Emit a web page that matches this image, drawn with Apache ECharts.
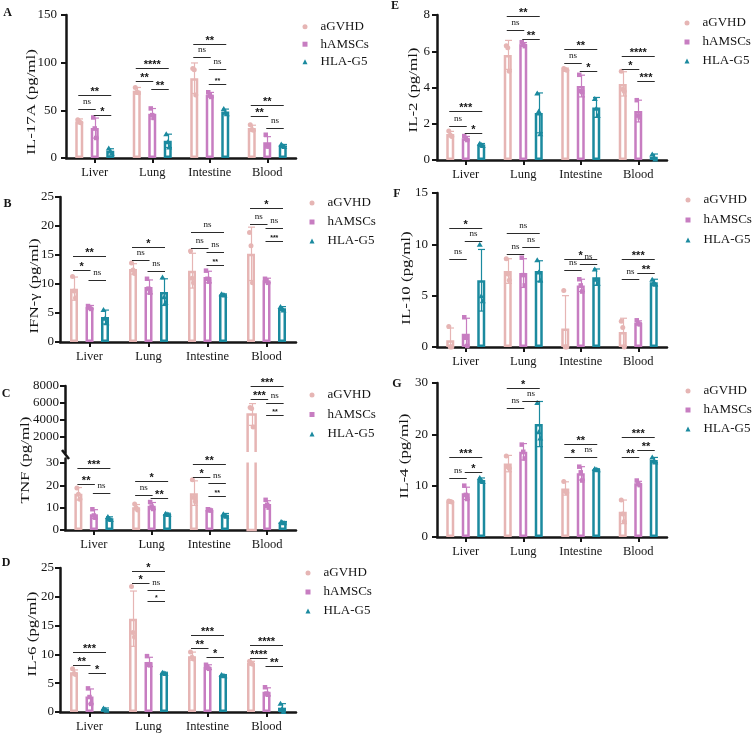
<!DOCTYPE html>
<html><head><meta charset="utf-8">
<script src="https://cdn.jsdelivr.net/npm/echarts@6/dist/echarts.min.js"></script>
<style>html,body{margin:0;padding:0;background:#fff}#c{width:753px;height:734px}</style>
</head><body><div id="c"></div>
<script>
// ---------------- DATA ----------------
const categories = ['Liver', 'Lung', 'Intestine', 'Blood'];
const groups = ['aGVHD', 'hAMSCs', 'HLA-G5'];

// A: IL-17A
const IL17A_title = 'IL-17A (pg/ml)';
const IL17A_ticks = [0, 50, 100, 150];
const IL17A_mean = [[38.4, 70.5, 83.7, 31.4], [31.4, 46.4, 66.3, 16.4], [7.7, 18.0, 48.8, 13.2]];
const IL17A_sd = [[2.6, 3.5, 16, 3], [10.5, 5.5, 2.5, 6], [2, 7, 2.5, 1]];
const IL17A_pts = [
  [[40, 38, 37], [74, 69, 68.5], [94, 92.5, 66], [35, 30, 29.2]],
  [[42.5, 31, 21], [52, 45, 42], [69, 66, 64], [24.4, 13, 12]],
  [[10.5, 7.7, 5], [25.5, 17, 11.5], [52, 48, 46.5], [14.6, 13, 12]]];
const IL17A_sig = [[0, 0, 2, 66], [0, 0, 1, 51.3], [0, 1, 2, 45.3], [1, 0, 2, 94.2], [1, 0, 1, 81], [1, 1, 2, 72.2],
  [2, 0, 2, 119.6], [2, 0, 1, 105.7], [2, 1, 2, 93], [3, 0, 2, 55.8], [3, 0, 1, 43.6], [3, 1, 2, 31.4]];
const IL17A_sigText = ['**', 'ns', '*', '****', '**', '**', '**', 'ns', 'ns', '**', '**', 'ns'];
const IL17A_minor = [[2, 1, 2, 77.4]];
const IL17A_minorText = ['**'];

// B: IFN-γ
const IFNG_title = 'IFN-γ (pg/ml)';
const IFNG_ticks = [0, 5, 10, 15, 20, 25];
const IFNG_mean = [[9.2, 12.6, 12.3, 15.2], [6.0, 9.5, 11.2, 10.6], [4.3, 8.6, 8.2, 5.8]];
const IFNG_sd = [[2.0, 0.9, 3.0, 4.6], [0.3, 1.2, 1.0, 0.4], [1.2, 2.3, 0.1, 0.3]];
const IFNG_pts = [
  [[11.3, 8.8, 7.6], [13.6, 12.4, 11.8], [15.7, 11.0, 10.2], [18.9, 16.6, 10.2]],
  [[6.2, 6.0, 5.7], [10.9, 9.2, 8.5], [12.3, 10.9, 10.4], [10.9, 10.6, 10.2]],
  [[5.6, 4.1, 3.3], [11.2, 7.8, 6.8], [8.3, 8.2, 8.1], [6.1, 5.8, 5.5]]];
const IFNG_sig = [[0, 0, 2, 14.8], [0, 0, 1, 12.5], [0, 1, 2, 10.7], [1, 0, 2, 16.4], [1, 0, 1, 14.1], [1, 1, 2, 12.2],
  [2, 0, 2, 18.9], [2, 0, 1, 16.2], [2, 1, 2, 15.5], [3, 0, 2, 23.1], [3, 0, 1, 20.4], [3, 1, 2, 19.7]];
const IFNG_sigText = ['**', '*', 'ns', '*', 'ns', 'ns', 'ns', 'ns', 'ns', '*', 'ns', 'ns'];
const IFNG_minor = [[2, 1, 2, 13.2], [3, 1, 2, 17.5]];
const IFNG_minorText = ['**', '***'];

// C: TNF (broken axis)
const TNF_title = 'TNF (pg/ml)';
const TNF_ticksUpper = [2000, 4000, 6000, 8000];
const TNF_ticksLower = [0, 10, 20, 30];
const TNF_mean = [[16.2, 10.2, 16.5, 4600], [7.1, 10.8, 9.0, 11.6], [5.3, 7.2, 6.8, 3.5]];
const TNF_sd = [[2.8, 1.2, 5.5, 1300], [2.0, 1.5, 0.3, 1.5], [0.6, 0.3, 0.6, 0.3]];
const TNF_pts = [
  [[18.8, 16.0, 13.8], [11.6, 10.0, 9.0], [22.5, 14.5, 12.8], [5420, 5300, 3100]],
  [[9.3, 6.5, 5.5], [12.5, 10.5, 9.4], [9.3, 9.0, 8.7], [13.5, 11.3, 10.0]],
  [[6.0, 5.2, 4.7], [7.5, 7.2, 6.9], [7.3, 6.6, 6.1], [3.8, 3.5, 3.2]]];
const TNF_sig = [[0, 0, 2, 27.8], [0, 0, 1, 20.7], [0, 1, 2, 16.5], [1, 0, 2, 22.1], [1, 0, 1, 15.8], [1, 1, 2, 14.3],
  [2, 0, 2, 29.6], [2, 0, 1, 23.6], [2, 1, 2, 21], [3, 0, 2, 7990], [3, 0, 1, 6485], [3, 1, 2, 6008]];
const TNF_sigText = ['***', '**', 'ns', '*', 'ns', '**', '**', '*', 'ns', '***', '***', 'ns'];
const TNF_minor = [[2, 1, 2, 15.3], [3, 1, 2, 4500]];
const TNF_minorText = ['**', '**'];

// D: IL-6
const IL6_title = 'IL-6 (pg/ml)';
const IL6_ticks = [0, 5, 10, 15, 20, 25];
const IL6_mean = [[6.9, 16.2, 9.7, 8.5], [2.7, 8.7, 7.8, 3.5], [0.5, 6.8, 6.4, 0.75]];
const IL6_sd = [[0.4, 4.8, 0.7, 0.3], [1.3, 0.8, 0.4, 0.7], [0.2, 0.1, 0.1, 0.7]];
const IL6_pts = [
  [[7.5, 6.7, 6.5], [21.8, 13.8, 13.0], [10.4, 9.5, 9.2], [8.8, 8.4, 8.3]],
  [[4.1, 2.6, 1.4], [9.7, 8.3, 8.1], [8.2, 7.7, 7.5], [4.3, 3.2, 3.0]],
  [[0.7, 0.5, 0.3], [6.9, 6.8, 6.7], [6.5, 6.4, 6.3], [1.5, 0.6, 0.1]]];
const IL6_sig = [[0, 0, 2, 10.5], [0, 0, 1, 8.2], [0, 1, 2, 6.7], [1, 0, 2, 24.5], [1, 0, 1, 22.4], [1, 1, 2, 21.1],
  [2, 0, 2, 13.4], [2, 0, 1, 11.1], [2, 1, 2, 9.5], [3, 0, 2, 11.7], [3, 0, 1, 9.4], [3, 1, 2, 7.9]];
const IL6_sigText = ['***', '**', '*', '*', '*', 'ns', '***', '**', '*', '****', '****', '**'];
const IL6_minor = [[1, 1, 2, 19.3]];
const IL6_minorText = ['*'];

// E: IL-2
const IL2_title = 'IL-2 (pg/ml)';
const IL2_ticks = [0, 2, 4, 6, 8];
const IL2_mean = [[1.43, 5.8, 5.0, 4.2], [1.2, 6.38, 4.08, 2.7], [0.86, 2.6, 2.9, 0.18]];
const IL2_sd = [[0.15, 0.8, 0.07, 0.67], [0.1, 0.1, 0.6, 0.6], [0.05, 1.1, 0.55, 0.15]];
const IL2_pts = [
  [[1.6, 1.38, 1.3], [6.3, 6.2, 4.9], [5.05, 5.0, 4.95], [4.9, 3.9, 3.8]],
  [[1.32, 1.2, 1.1], [6.5, 6.38, 6.28], [4.7, 3.8, 3.75], [3.3, 2.45, 2.35]],
  [[0.92, 0.86, 0.8], [3.7, 2.7, 1.45], [3.4, 2.85, 2.45], [0.33, 0.15, 0.06]]];
const IL2_sig = [[0, 0, 2, 2.72], [0, 0, 1, 1.9], [0, 1, 2, 1.47], [1, 0, 2, 7.94], [1, 0, 1, 7.2], [1, 1, 2, 6.7],
  [2, 0, 2, 6.1], [2, 0, 1, 5.37], [2, 1, 2, 4.93], [3, 0, 2, 5.75], [3, 0, 1, 5.0], [3, 1, 2, 4.37]];
const IL2_sigText = ['***', 'ns', '*', '**', 'ns', '**', '**', 'ns', '*', '****', '*', '***'];
const IL2_minor = [];
const IL2_minorText = [];

// F: IL-10
const IL10_title = 'IL-10 (pg/ml)';
const IL10_ticks = [0, 5, 10, 15];
const IL10_mean = [[0.65, 7.4, 1.8, 1.45], [1.3, 7.2, 6.0, 2.35], [6.5, 7.4, 6.8, 6.3]];
const IL10_sd = [[1.2, 1.2, 3.2, 1.35], [1.5, 1.4, 0.6, 0.2], [3.0, 1.0, 0.8, 0.3]];
const IL10_pts = [
  [[2.0, 0, 0], [8.6, 7.1, 6.5], [5.5, 0, 0], [2.5, 1.9, 0]],
  [[2.9, 0.9, 0.1], [8.7, 7.0, 6.0], [6.6, 6.0, 5.4], [2.6, 2.3, 2.2]],
  [[10.0, 5.0, 4.5], [8.5, 7.3, 6.5], [7.6, 6.6, 6.2], [6.6, 6.3, 6.1]]];
const IL10_sig = [[0, 0, 2, 11.6], [0, 0, 1, 8.6], [0, 1, 2, 10.3], [1, 0, 2, 11.1], [1, 0, 1, 9.1], [1, 1, 2, 9.7],
  [2, 0, 2, 8.6], [2, 0, 1, 7.47], [2, 1, 2, 8.05], [3, 0, 2, 8.54], [3, 0, 1, 6.6], [3, 1, 2, 7.24]];
const IL10_sigText = ['*', 'ns', 'ns', 'ns', 'ns', 'ns', '*', 'ns', 'ns', '***', 'ns', '**'];
const IL10_minor = [];
const IL10_minorText = [];

// G: IL-4
const IL4_title = 'IL-4 (pg/ml)';
const IL4_ticks = [0, 10, 20, 30];
const IL4_mean = [[6.9, 14.3, 9.45, 4.9], [8.5, 16.6, 12.4, 10.45], [11.1, 22.0, 13.2, 15.0]];
const IL4_sd = [[0.1, 1.6, 1.3, 2.3], [1.2, 1.6, 1.3, 0.4], [0.4, 4.4, 0.1, 0.5]];
const IL4_pts = [
  [[7.0, 6.9, 6.8], [15.8, 13.7, 13.4], [10.8, 8.9, 8.6], [7.2, 4.5, 3.0]],
  [[10.0, 8.2, 7.4], [18.0, 16.6, 15.3], [13.7, 12.6, 11.0], [11.0, 10.3, 10.1]],
  [[11.6, 11.0, 10.8], [26.2, 20.5, 19.3], [13.35, 13.2, 13.1], [15.6, 14.8, 14.6]]];
const IL4_sig = [[0, 0, 2, 15.5], [0, 0, 1, 11.4], [0, 1, 2, 12.6], [1, 0, 2, 29.1], [1, 0, 1, 25.1], [1, 1, 2, 26.5],
  [2, 0, 2, 18.2], [2, 0, 1, 15.5], [2, 1, 2, 15.5], [3, 0, 2, 19.5], [3, 0, 1, 15.5], [3, 1, 2, 16.9]];
const IL4_sigText = ['***', 'ns', '*', '*', 'ns', 'ns', '**', '*', 'ns', '***', '**', '**'];
const IL4_minor = [];
const IL4_minorText = [];

// ---------------- STYLE / LAYOUT ----------------
const COLORS = ['#E6B5B4', '#C77DC1', '#1B8A9F'];
const SYMBOLS = ['circle', 'rect', 'triangle'];
const SYM_SIZE = [5, 4.5, [6, 5]];
const BAR_W = 8;
const BAR_BORDER = 2.5;
const SPACING = 15.5;
const OFFS = [-SPACING, 0, SPACING];
const BAR_GAP = ((SPACING - BAR_W) / BAR_W * 100).toFixed(2) + '%';
const SERIF = '"Liberation Serif","Times New Roman",serif';
const SANS = '"Liberation Sans",Arial,sans-serif';
const INK = '#151515';
const asBar = () => 'bar';

const panels = [
  { letter: 'A', title: IL17A_title, mean: IL17A_mean, sd: IL17A_sd, pts: IL17A_pts, sig: IL17A_sig, sigText: IL17A_sigText, minor: IL17A_minor, minorText: IL17A_minorText,
    left: 66, width: 230, labelMargin: 9,
    segs: [{ top: 15, height: 143, min: 0, max: 150, interval: 50, ticks: IL17A_ticks, xShow: true, barMode: asBar, markKeep: () => true }],
    legend: [302.5, 20.2, 4.5], titlePos: [32, 102], letterPos: [7.5, 13] },
  { letter: 'B', title: IFNG_title, mean: IFNG_mean, sd: IFNG_sd, pts: IFNG_pts, sig: IFNG_sig, sigText: IFNG_sigText, minor: IFNG_minor, minorText: IFNG_minorText,
    left: 60, width: 236, labelMargin: 6,
    segs: [{ top: 197, height: 145, min: 0, max: 25, interval: 5, ticks: IFNG_ticks, xShow: true, barMode: asBar, markKeep: () => true }],
    legend: [309.5, 196.5, 6], titlePos: [35, 286], letterPos: [7.5, 203.5] },
  { letter: 'C', title: TNF_title, mean: TNF_mean, sd: TNF_sd, pts: TNF_pts, sig: TNF_sig, sigText: TNF_sigText, minor: TNF_minor, minorText: TNF_minorText,
    left: 65, width: 231, labelMargin: 6, segs: [
      { top: 386, height: 67, min: 0, max: 8000, interval: 2000, ticks: TNF_ticksUpper, xShow: false,
        barMode: v => (v > 32 ? 'openBottom' : null), markKeep: v => v > 32 },
      { top: 458.5, height: 71.5, min: 0, max: 32, interval: 10, ticks: TNF_ticksLower, xShow: true,
        barMode: v => (v <= 32 ? 'bar' : 'openTop'), markKeep: v => v <= 32 }],
    legend: [309.5, 388.5, 6.5], titlePos: [26, 460], letterPos: [6, 394], brk: true },
  { letter: 'D', title: IL6_title, mean: IL6_mean, sd: IL6_sd, pts: IL6_pts, sig: IL6_sig, sigText: IL6_sigText, minor: IL6_minor, minorText: IL6_minorText,
    left: 60, width: 236, labelMargin: 6,
    segs: [{ top: 568, height: 144, min: 0, max: 25, interval: 5, ticks: IL6_ticks, xShow: true, barMode: asBar, markKeep: () => true }],
    legend: [305.5, 566.5, 6], titlePos: [33, 634], letterPos: [6, 563] },
  { letter: 'E', title: IL2_title, mean: IL2_mean, sd: IL2_sd, pts: IL2_pts, sig: IL2_sig, sigText: IL2_sigText, minor: IL2_minor, minorText: IL2_minorText,
    left: 437, width: 230, labelMargin: 7,
    segs: [{ top: 15, height: 145, min: 0, max: 8, interval: 2, ticks: IL2_ticks, xShow: true, barMode: asBar, markKeep: () => true }],
    legend: [684.5, 16.5, 6], titlePos: [414, 90], letterPos: [395, 6] },
  { letter: 'F', title: IL10_title, mean: IL10_mean, sd: IL10_sd, pts: IL10_pts, sig: IL10_sig, sigText: IL10_sigText, minor: IL10_minor, minorText: IL10_minorText,
    left: 437, width: 230, labelMargin: 9,
    segs: [{ top: 193, height: 154, min: 0, max: 15, interval: 5, ticks: IL10_ticks, xShow: true, barMode: asBar, markKeep: () => true }],
    legend: [685.5, 193.5, 7], titlePos: [407, 278], letterPos: [397, 194] },
  { letter: 'G', title: IL4_title, mean: IL4_mean, sd: IL4_sd, pts: IL4_pts, sig: IL4_sig, sigText: IL4_sigText, minor: IL4_minor, minorText: IL4_minorText,
    left: 437, width: 230, labelMargin: 9,
    segs: [{ top: 383, height: 154, min: 0, max: 30, interval: 10, ticks: IL4_ticks, xShow: true, barMode: asBar, markKeep: () => true }],
    legend: [685.5, 384.5, 6], titlePos: [405, 456], letterPos: [397, 384] }
];

const option = { animation: false, textStyle: { fontFamily: SERIF }, grid: [], xAxis: [], yAxis: [], series: [], legend: [], graphic: [] };

function textStyle(o) {
  return Object.assign({ textAlign: o.align, textVerticalAlign: o.verticalAlign }, o);
}

function bracketSeries(gi, items, labels, small) {
  return {
    type: 'custom', xAxisIndex: gi, yAxisIndex: gi, z: 6, silent: true, clip: false,
    encode: { x: 0, y: 3 },
    data: items,
    renderItem: (params, api) => {
      const c = api.value(0), g1 = api.value(1), g2 = api.value(2), yv = api.value(3);
      const p = api.coord([c, yv]);
      const y = Math.round(p[1]) + 0.5;
      const x1 = p[0] + OFFS[g1] - 1, x2 = p[0] + OFFS[g2] + 1;
      const lab = labels[params.dataIndex];
      const isNs = lab === 'ns';
      let font, ty;
      if (small) { font = `bold 7px ${SANS}`; ty = y + 0; }
      else if (isNs) { font = `9px ${SERIF}`; ty = y - 3; }
      else { font = `bold 11px ${SANS}`; ty = y + 1.5; }
      return {
        type: 'group', children: [
          { type: 'line', shape: { x1, y1: y, x2, y2: y }, style: { stroke: '#2b2b2b', lineWidth: 1 } },
          { type: 'text', style: textStyle({ text: lab, x: (x1 + x2) / 2, y: ty, font, fill: INK, align: 'center', verticalAlign: 'bottom' }) }
        ]
      };
    }
  };
}

panels.forEach(p => {
  p.segs.forEach(seg => {
    const gi = option.grid.length;
    option.grid.push({ left: p.left, top: seg.top, width: p.width, height: seg.height, containLabel: false, outerBoundsMode: 'none' });
    option.xAxis.push({
      type: 'category', gridIndex: gi, data: categories, show: seg.xShow, boundaryGap: true,
      axisLine: { show: true, lineStyle: { color: INK, width: 2.5 } },
      axisTick: { show: true, alignWithLabel: true, length: 5, lineStyle: { color: INK, width: 2 } },
      axisLabel: { show: true, fontFamily: SERIF, fontSize: 12.5, color: INK, margin: 8 },
      splitLine: { show: false }
    });
    option.yAxis.push({
      type: 'value', gridIndex: gi, min: seg.min, max: seg.max, interval: seg.interval,
      axisLine: { show: true, lineStyle: { color: INK, width: 2.5 } },
      axisTick: { show: true, length: 5, lineStyle: { color: INK, width: 2 }, customValues: seg.ticks },
      axisLabel: { fontFamily: SERIF, fontSize: 13, color: INK, margin: p.labelMargin, customValues: seg.ticks,
        formatter: v => (seg.ticks.indexOf(v) >= 0 ? String(v) : '') },
      splitLine: { show: false }
    });
    // bars (closed bars through the bar series; bars cut by the axis break drawn open-ended)
    const openBars = [];
    p.mean.forEach((arr, g) => {
      option.series.push({
        type: 'bar', name: groups[g], xAxisIndex: gi, yAxisIndex: gi, barWidth: BAR_W, barGap: BAR_GAP, z: 2,
        clip: true, silent: true,
        data: arr.map(v => (seg.barMode(v) === 'bar' ? v : '-')),
        itemStyle: { color: '#ffffff', borderColor: COLORS[g], borderWidth: BAR_BORDER },
        emphasis: { disabled: true }
      });
      arr.forEach((v, c) => {
        const m = seg.barMode(v);
        if (m === 'openTop' || m === 'openBottom') openBars.push([c, g, v, m === 'openTop' ? 1 : 0]);
      });
    });
    if (openBars.length) {
      option.series.push({
        type: 'custom', xAxisIndex: gi, yAxisIndex: gi, z: 2, silent: true, clip: false,
        encode: { x: 0, y: 2 }, data: openBars,
        renderItem: (params, api) => {
          const c = api.value(0), g = api.value(1), v = api.value(2), top = api.value(3);
          const x = api.coord([c, seg.min])[0] + OFFS[g];
          const y0 = api.coord([c, seg.min])[1];
          const y1 = top ? api.coord([c, seg.max])[1] + 4 : api.coord([c, v])[1];
          const h = BAR_W / 2;
          const pts = top ? [[x - h, y1], [x - h, y0], [x + h, y0], [x + h, y1]]
                          : [[x - h, y0 - 1], [x - h, y1], [x + h, y1], [x + h, y0 - 1]];
          return { type: 'polyline', shape: { points: pts }, style: { stroke: COLORS[g], lineWidth: BAR_BORDER, fill: null } };
        }
      });
    }
    // error bars
    const eb = [];
    p.mean.forEach((arr, g) => arr.forEach((m, c) => { if (seg.markKeep(m)) eb.push([c, g, m, p.sd[g][c]]); }));
    option.series.push({
      type: 'custom', xAxisIndex: gi, yAxisIndex: gi, z: 3, silent: true,
      encode: { x: 0, y: 2 }, data: eb,
      renderItem: (params, api) => {
        const c = api.value(0), g = api.value(1), m = api.value(2), s = api.value(3);
        const x = Math.round(api.coord([c, m])[0] + OFFS[g]) + 0.5;
        const yt = api.coord([c, m + s])[1];
        const lo = Math.max(m - s, seg.min);
        const yb = api.coord([c, lo])[1];
        const st = { stroke: COLORS[g], lineWidth: 1.2 };
        const ch = [
          { type: 'line', shape: { x1: x, y1: yt, x2: x, y2: yb }, style: st },
          { type: 'line', shape: { x1: x - 3.5, y1: yt, x2: x + 3.5, y2: yt }, style: st }
        ];
        if (m - s > seg.min) ch.push({ type: 'line', shape: { x1: x - 3.5, y1: yb, x2: x + 3.5, y2: yb }, style: st });
        return { type: 'group', children: ch };
      }
    });
    // individual points
    p.pts.forEach((grp, g) => {
      const d = [];
      grp.forEach((vals, c) => vals.forEach((v, j) => {
        if (seg.markKeep(v)) d.push({ value: [c, v], symbolOffset: [OFFS[g] + (j - 1) * 1.5, 0] });
      }));
      option.series.push({
        type: 'scatter', name: groups[g], xAxisIndex: gi, yAxisIndex: gi, z: 4, silent: true,
        symbol: SYMBOLS[g], symbolSize: SYM_SIZE[g], itemStyle: { color: COLORS[g], opacity: 1 }, data: d
      });
    });
    // significance brackets
    const si = [], st = [];
    p.sig.forEach((b, k) => { if (seg.markKeep(b[3])) { si.push(b); st.push(p.sigText[k]); } });
    option.series.push(bracketSeries(gi, si, st, false));
    const mi = [], mt = [];
    p.minor.forEach((b, k) => { if (seg.markKeep(b[3])) { mi.push(b); mt.push(p.minorText[k]); } });
    if (mi.length) option.series.push(bracketSeries(gi, mi, mt, true));
  });
  // legend
  option.legend.push({
    orient: 'vertical', left: p.legend[0], top: p.legend[1], itemWidth: 5, itemHeight: 5, itemGap: p.legend[2],
    selectedMode: false, padding: 0,
    data: groups.map((n, g) => ({ name: n, icon: SYMBOLS[g], itemStyle: { color: COLORS[g], borderWidth: 0 } })),
    textStyle: { fontFamily: SERIF, fontSize: 13, color: INK, padding: [0, 0, 0, 8] }
  });
  // y-axis title
  option.graphic.push({
    type: 'text', x: p.titlePos[0], y: p.titlePos[1], rotation: Math.PI / 2, scaleX: 1.3, silent: true,
    style: textStyle({ text: p.title, font: `13px ${SERIF}`, fill: INK, align: 'center', verticalAlign: 'middle' })
  });
  // panel letter
  option.graphic.push({
    type: 'text', x: p.letterPos[0], y: p.letterPos[1], silent: true,
    style: textStyle({ text: p.letter, font: `bold 12px ${SERIF}`, fill: INK, align: 'center', verticalAlign: 'middle' })
  });
  if (p.brk) {
    option.graphic.push({ type: 'line', silent: true, shape: { x1: p.left - 3, y1: 450, x2: p.left + 4, y2: 459 },
      style: { stroke: INK, lineWidth: 2.5 } });
  }
});

const chart = echarts.init(document.getElementById('c'), null, { renderer: 'canvas' });
chart.setOption(option);
</script></body></html>
